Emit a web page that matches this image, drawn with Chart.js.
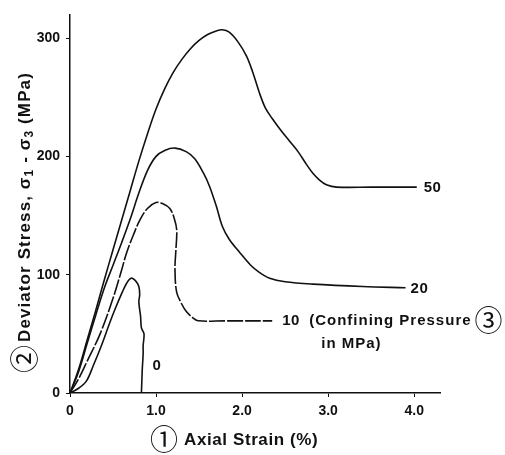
<!DOCTYPE html>
<html>
<head>
<meta charset="utf-8">
<script src="https://cdn.jsdelivr.net/npm/chart.js@4"></script>
<style>
  html, body { margin: 0; padding: 0; background: #fff; }
  #wrap { width: 505px; height: 455px; }
</style>
</head>
<body>
<div id="wrap"><canvas id="chart_stressStrain"></canvas></div>
<script>
// confining pressures (MPa)
const pressures = ['50', '20', '10', '0'];

// axial strain (%) / deviator stress (MPa)
const strain50 = [0, 0.1, 0.2, 0.3, 0.4, 0.5, 0.6, 0.7, 0.8, 0.9, 1.0, 1.1, 1.2, 1.3, 1.4, 1.5, 1.6, 1.7, 1.77, 1.85, 1.95, 2.05, 2.12, 2.2, 2.27, 2.35, 2.45, 2.55, 2.65, 2.75, 2.82, 2.9, 2.98, 3.1, 3.5, 4.03];
const stress50 = [0, 20, 45, 70, 96, 121, 146, 171, 196, 219, 240, 257, 271, 282, 291, 298, 303, 306, 307, 305, 297, 285, 272, 254, 241, 232, 222, 213, 204, 193, 186, 180, 176, 174, 174, 174];

const strain20 = [0, 0.1, 0.2, 0.3, 0.4, 0.5, 0.6, 0.7, 0.8, 0.9, 1.0, 1.1, 1.22, 1.35, 1.45, 1.55, 1.62, 1.7, 1.77, 1.85, 1.97, 2.1, 2.2, 2.32, 2.5, 2.82, 3.4, 3.9];
const stress20 = [0, 18, 42, 66, 89, 108, 127, 147, 169, 188, 200, 205, 207, 204, 198, 186, 175, 158, 141, 130, 119, 108, 102, 97, 94, 92, 90, 89];

const strain10 = [0, 0.1, 0.2, 0.35, 0.5, 0.6, 0.66, 0.75, 0.81, 0.9, 1.0, 1.08, 1.16, 1.21, 1.24, 1.23, 1.22, 1.24, 1.3, 1.35, 1.42, 1.49, 1.8, 2.35];
const stress10 = [0, 12, 27, 50, 80, 104, 119, 136, 146, 156, 161, 160, 156, 148, 138, 120, 105, 85, 75, 69, 64, 61, 61, 61];

const strain0 = [0, 0.1, 0.19, 0.27, 0.37, 0.46, 0.53, 0.6, 0.66, 0.71, 0.76, 0.8, 0.81, 0.8, 0.82, 0.83, 0.86, 0.85, 0.85, 0.84, 0.83];
const stress0 = [0, 4, 10, 23, 41, 59, 72, 84, 93, 97, 95, 90, 83, 77, 65, 55, 50, 40, 33, 20, 0];

const xTicks = [0, 1, 2, 3, 4];
const yTicks = [0, 100, 200, 300];

const toPoints = (xs, ys) => xs.map((x, i) => ({ x: x, y: ys[i] }));
const series = [
  toPoints(strain50, stress50),
  toPoints(strain20, stress20),
  toPoints(strain10, stress10),
  toPoints(strain0, stress0)
];

const INK = '#111';
const FONT = '"Liberation Sans", Arial, sans-serif';
const CIRCLE_FONT = '"Noto Sans CJK JP", "DejaVu Sans", sans-serif';

// draws text pieces one after another; sub pieces are smaller and lowered
function drawRuns(ctx, runs, x, y) {
  runs.forEach(r => {
    ctx.font = r.sub ? 'bold 12px ' + FONT : 'bold 17px ' + FONT;
    ctx.fillText(r.t, x, r.sub ? y + 5 : y);
    x += ctx.measureText(r.t).width;
  });
}

// curve labels and the two axis titles (with their circled numbers)
const annotations = {
  id: 'annotations',
  afterDraw: (chart) => {
    const ctx = chart.ctx;
    const xs = chart.scales.x, ys = chart.scales.y;
    const area = chart.chartArea;
    const endOf = (i) => {
      const d = chart.data.datasets[i].data;
      const p = d[d.length - 1];
      return { px: xs.getPixelForValue(p.x), py: ys.getPixelForValue(p.y) };
    };
    ctx.save();
    ctx.fillStyle = INK;
    ctx.textBaseline = 'middle';
    ctx.textAlign = 'left';
    ctx.font = 'bold 15px ' + FONT;
    ctx.letterSpacing = '0.5px';
    let e = endOf(0);
    ctx.fillText('50', e.px + 7, e.py + 1);
    e = endOf(1);
    ctx.fillText('20', e.px + 5, e.py + 1);
    e = endOf(2);
    ctx.fillText('10', e.px + 10, e.py);
    ctx.letterSpacing = '1px';
    ctx.fillText('(Confining Pressure', e.px + 37, e.py);
    const w = ctx.measureText('(Confining Pressure').width;
    ctx.fillText('in MPa)', e.px + 49, e.py + 23);
    ctx.letterSpacing = '0px';
    ctx.font = '28px ' + CIRCLE_FONT;
    ctx.fillText('\u2462', e.px + 40 + w, e.py);
    ctx.font = 'bold 15px ' + FONT;
    ctx.fillText('0', xs.getPixelForValue(0.96), ys.getPixelForValue(23));

    // x title
    const xt = area.bottom + 46;
    ctx.font = '28px ' + CIRCLE_FONT;
    ctx.fillText('\u2460', 150, xt);
    ctx.font = 'bold 17px ' + FONT;
    ctx.letterSpacing = '0.6px';
    ctx.fillText('Axial Strain (%)', 184, xt + 1);

    // y title, rotated, reading upward
    ctx.translate(24, area.bottom - 20);
    ctx.rotate(-Math.PI / 2);
    ctx.letterSpacing = '0px';
    ctx.font = '28px ' + CIRCLE_FONT;
    ctx.fillText('\u2461', 0, 0);
    ctx.letterSpacing = '1.1px';
    drawRuns(ctx, [
      { t: 'Deviator Stress, \u03c3' },
      { t: '1', sub: true },
      { t: ' - \u03c3' },
      { t: '3', sub: true },
      { t: ' (MPa)' }
    ], 31, 1);
    ctx.restore();
  }
};

const chart_stressStrain = new Chart(document.getElementById('chart_stressStrain'), {
  type: 'line',
  data: {
    datasets: series.map((pts, i) => ({
      label: pressures[i],
      data: pts,
      borderColor: INK,
      borderWidth: 1.6,
      borderDash: pressures[i] === '10' ? [16, 2] : [],
      pointRadius: 0,
      tension: 0.35,
      fill: false
    }))
  },
  options: {
    animation: false,
    responsive: true,
    maintainAspectRatio: false,
    layout: { padding: { top: 8, right: 65, left: 0, bottom: 0 } },
    plugins: {
      legend: { display: false },
      tooltip: { enabled: false }
    },
    scales: {
      x: {
        type: 'linear',
        min: 0,
        max: 4.3,
        afterFit: (scale) => { scale.height = 62; },
        afterBuildTicks: (scale) => { scale.ticks = xTicks.map(v => ({ value: v })); },
        border: { color: INK, width: 1.5 },
        grid: { drawOnChartArea: false, tickLength: 4, color: INK },
        ticks: {
          color: INK,
          padding: 6,
          font: { family: FONT, size: 14, weight: 'bold' },
          callback: (v) => v === 0 ? '0' : v.toFixed(1)
        }
      },
      y: {
        type: 'linear',
        min: 0,
        max: 320,
        afterFit: (scale) => { scale.width = 70; },
        afterBuildTicks: (scale) => { scale.ticks = yTicks.map(v => ({ value: v })); },
        border: { color: INK, width: 1.5 },
        grid: { drawOnChartArea: false, tickLength: 4, color: INK },
        ticks: {
          color: INK,
          padding: 6,
          font: { family: FONT, size: 14, weight: 'bold' }
        }
      }
    }
  },
  plugins: [annotations, {
    id: 'whiteBg',
    beforeDraw: (chart) => {
      const ctx = chart.canvas.getContext('2d');
      ctx.save();
      ctx.globalCompositeOperation = 'destination-over';
      ctx.fillStyle = 'white';
      ctx.fillRect(0, 0, chart.canvas.width, chart.canvas.height);
      ctx.restore();
    }
  }]
});
</script>
</body>
</html>
